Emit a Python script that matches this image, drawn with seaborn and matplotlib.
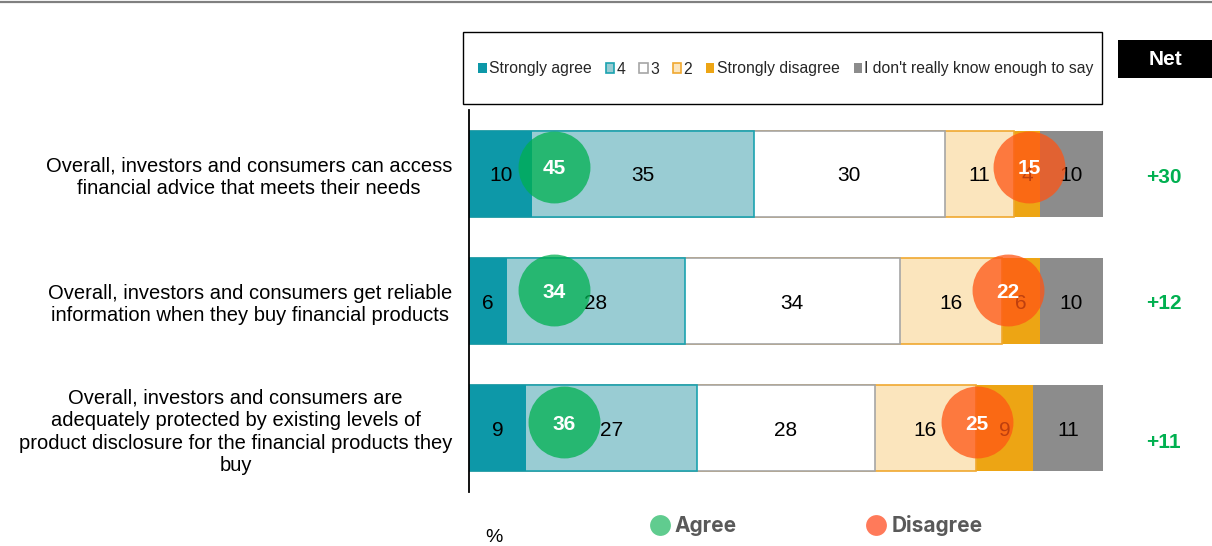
import numpy as np
import pandas as pd
import matplotlib
matplotlib.use("Agg")
import matplotlib.pyplot as plt
from matplotlib.patches import Patch, Rectangle
from matplotlib.lines import Line2D
import matplotlib.transforms as mtransforms
import seaborn as sns

# ---------------- data ----------------
categories = [
    "Overall, investors and consumers can access\nfinancial advice that meets their needs",
    "Overall, investors and consumers get reliable\ninformation when they buy financial products",
    "Overall, investors and consumers are\nadequately protected by existing levels of\nproduct disclosure for the financial products they\nbuy",
]
segment_names = ["Strongly agree", "4", "3", "2", "Strongly disagree",
                 "I don't really know enough to say"]
strongly_agree = [10, 6, 9]
agree_4 = [35, 28, 27]
neutral_3 = [30, 34, 28]
disagree_2 = [11, 16, 16]
strongly_disagree = [4, 6, 9]
dont_know = [10, 10, 11]
agree_total = [45, 34, 36]
disagree_total = [15, 22, 25]
summary_labels = ["Agree", "Disagree"]

# ---------------- layout / style ----------------
W, H = 1212, 546
seg_fill = ["#0D98A8", "#99CCD3", "#FFFFFF", "#FBE5BD", "#EDA514", "#8C8C8C"]
seg_edge = ["#0D98A8", "#1BA3B0", "#A6A6A6", "#F0A830", "#EDA514", "#8C8C8C"]
seg_lw = [0, 1.2, 1.2, 1.2, 0, 0]
GREEN = "#00B050"
ORANGE = "#FF5514"
agree_circle_x = [13.4, 13.4, 15.0]
disagree_circle_x = [88.3, 85.0, 80.1]
circle_dy = [-0.053, -0.086, -0.047]
net_dy = [0.012, 0.0, 0.094]

sns.set_theme(style="white")
plt.rcParams["font.family"] = ["Liberation Sans", "DejaVu Sans"]

values = np.array([strongly_agree, agree_4, neutral_3, disagree_2,
                   strongly_disagree, dont_know], dtype=float)  # seg x row
cum = np.cumsum(values, axis=0)
rows = np.arange(len(categories))

df = pd.DataFrame({
    "row": np.tile(rows, len(segment_names)),
    "segment": np.repeat(segment_names, len(categories)),
    "value": values.flatten(),
    "cum": cum.flatten(),
})

fig = plt.figure(figsize=(W / 100, H / 100), dpi=100)
ax = fig.add_axes([469 / W, (H - 492) / H, 634 / W, 382 / H])

# stacked bars: draw cumulative totals from longest to shortest
for i in reversed(range(len(segment_names))):
    sub = df[df["segment"] == segment_names[i]]
    sns.barplot(data=sub, x="cum", y="row", orient="h", native_scale=True,
                width=0.675, color=seg_fill[i], edgecolor=seg_edge[i],
                linewidth=seg_lw[i], saturation=1, errorbar=None, ax=ax)

# segment value labels
for i in range(len(segment_names)):
    for r in rows:
        v = values[i, r]
        ax.text(cum[i, r] - v / 2, r, f"{int(v)}", ha="center",
                va="center_baseline", fontsize=15, color="black", zorder=4)

# agree / disagree circles
sns.scatterplot(x=agree_circle_x, y=rows + np.array(circle_dy), s=2680,
                color=GREEN, alpha=0.75, linewidth=0, ax=ax, zorder=5,
                legend=False)
sns.scatterplot(x=disagree_circle_x, y=rows + np.array(circle_dy), s=2680,
                color=ORANGE, alpha=0.75, linewidth=0, ax=ax, zorder=5,
                legend=False)
for r in rows:
    ax.text(agree_circle_x[r], r + circle_dy[r], f"{agree_total[r]}",
            ha="center", va="center_baseline", fontsize=15, fontweight="bold",
            color="white", zorder=6)
    ax.text(disagree_circle_x[r], r + circle_dy[r], f"{disagree_total[r]}",
            ha="center", va="center_baseline", fontsize=15, fontweight="bold",
            color="white", zorder=6)

# net values
trans = mtransforms.blended_transform_factory(ax.transAxes, ax.transData)
net = [a - d for a, d in zip(agree_total, disagree_total)]
for r in rows:
    ax.text((1163.5 - 469) / 634, r + net_dy[r], f"{net[r]:+d}", transform=trans,
            ha="center", va="center_baseline", fontsize=15, fontweight="bold",
            color=GREEN, clip_on=False)

ax.set_xlim(0, 100)
ax.set_ylim(2.5, -0.5)
ax.set_xticks([])
ax.set_yticks(rows)
ax.set_yticklabels(categories)
ax.set_xlabel("")
ax.set_ylabel("")
ax.tick_params(axis="y", length=0, pad=12, labelsize=14.5, labelcolor="black")
for lbl in ax.get_yticklabels():
    lbl.set_multialignment("center")
    lbl.set_linespacing(1.225)
for s in ["top", "right", "bottom"]:
    ax.spines[s].set_visible(False)
ax.spines["left"].set_color("black")
ax.spines["left"].set_linewidth(1.3)

# legend box + legend
fig.add_artist(Rectangle((463 / W, 1 - 104 / H), (1102 - 463) / W, 72 / H,
                         transform=fig.transFigure, facecolor="none",
                         edgecolor="black", linewidth=1.0))
handles = [Patch(facecolor=seg_fill[i], edgecolor=seg_edge[i],
                 linewidth=1.2 if seg_lw[i] else 0) for i in range(6)]
fig.legend(handles, segment_names, loc="center",
           bbox_to_anchor=(786 / W, 1 - 69 / H), ncol=6, frameon=False,
           fontsize=11.3, handlelength=0.52, handleheight=0.52,
           handletextpad=0.15, columnspacing=0.9, borderaxespad=0,
           borderpad=0)

# Net header
fig.add_artist(Rectangle((1118 / W, 1 - 78 / H), 94 / W, 38 / H,
                         transform=fig.transFigure, facecolor="black",
                         edgecolor="none"))
fig.text(1165 / W, 1 - 59 / H, "Net", ha="center", va="center",
         fontsize=15, fontweight="bold", color="white")

# bottom legend
bh = [Line2D([], [], marker="o", linestyle="none", markersize=15,
             markerfacecolor="#60CC8F", markeredgewidth=0),
      Line2D([], [], marker="o", linestyle="none", markersize=15,
             markerfacecolor="#FF7A5A", markeredgewidth=0)]
fig.legend(bh, summary_labels, loc="center",
           bbox_to_anchor=(817 / W, 1 - 526 / H), ncol=2, frameon=False,
           prop={"family": ["Inter", "DejaVu Sans"], "weight": "bold",
                 "size": 15},
           labelcolor="#595959", handlelength=0.8, handletextpad=0.32,
           columnspacing=6.3, borderaxespad=0, borderpad=0)
fig.text(494 / W, 1 - 537 / H, "%", ha="center", va="center", fontsize=14,
         color="black")

# top rule
fig.add_artist(Line2D([0, 1], [1 - 2 / H, 1 - 2 / H], transform=fig.transFigure,
                      color="#808080", linewidth=1.6))

fig.savefig("out.png", dpi=100)
